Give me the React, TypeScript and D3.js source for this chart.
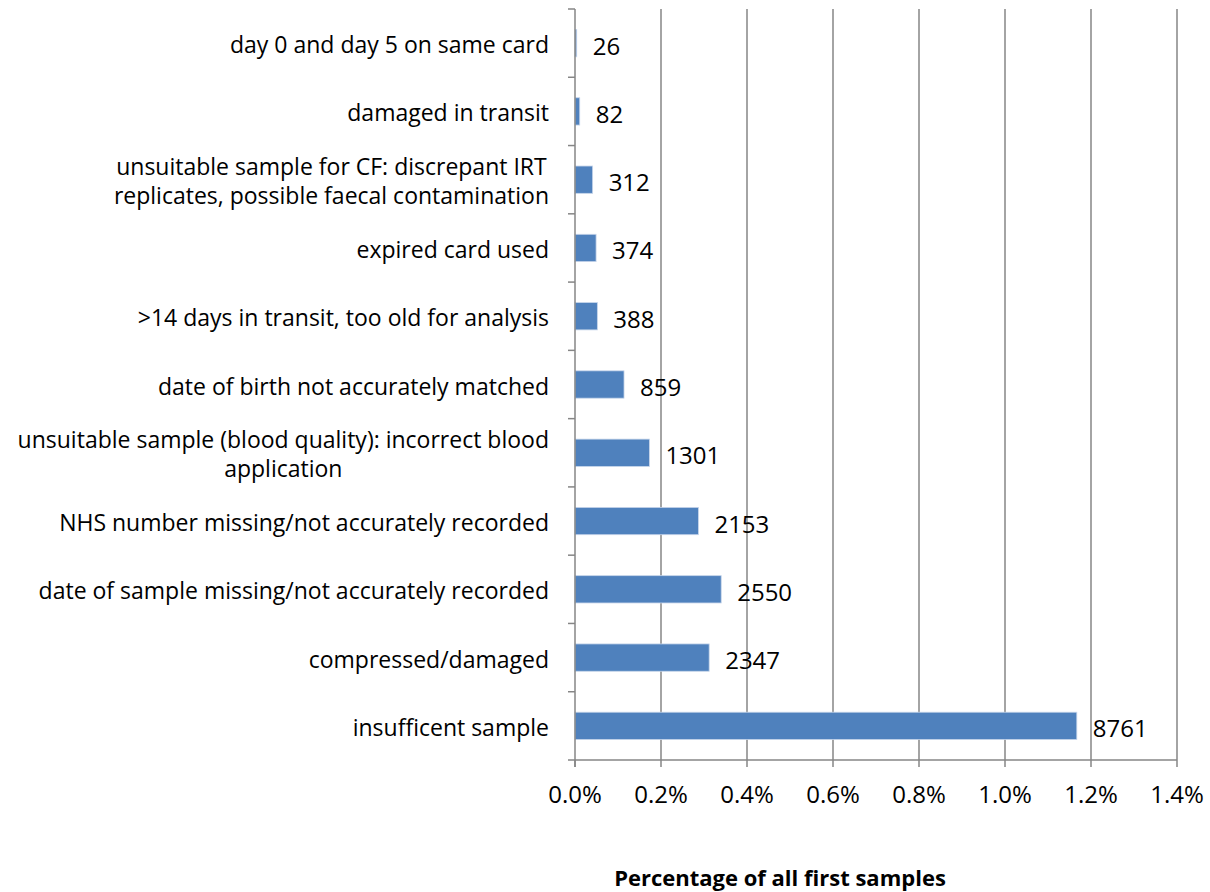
import React, { useEffect, useRef } from "react";
import * as d3 from "d3";

const categories: string[][] = [
  ["day 0 and day 5 on same card"],
  ["damaged in transit"],
  ["unsuitable sample for CF: discrepant IRT", "replicates, possible faecal contamination"],
  ["expired card used"],
  [">14 days in transit, too old for analysis"],
  ["date of birth not accurately matched"],
  ["unsuitable sample (blood quality): incorrect blood", "application"],
  ["NHS number missing/not accurately recorded"],
  ["date of sample missing/not accurately recorded"],
  ["compressed/damaged "],
  ["insufficent sample"],
];
const counts: number[] = [26, 82, 312, 374, 388, 859, 1301, 2153, 2550, 2347, 8761];
const percents: number[] = [0.004, 0.011, 0.041, 0.049, 0.052, 0.114, 0.173, 0.287, 0.34, 0.312, 1.167];
const xTicks: number[] = [0, 0.2, 0.4, 0.6, 0.8, 1.0, 1.2, 1.4];
const xTitle = "Percentage of all first samples";

const W = 1210;
const H = 892;
const FONT = "'Open Sans', Lato, sans-serif";
const FS = 23;
const FS_NUM = 24;

export default function App() {
  const ref = useRef<SVGSVGElement>(null);
  useEffect(() => {
    const svg = d3.select(ref.current);
    svg.selectAll("*").remove();
    const left = 575, right = 1177, top = 9, bottom = 760;
    const x = d3.scaleLinear().domain([0, 1.4]).range([left, right]);
    const idx = categories.map((_, i) => String(i));
    const y = d3.scaleBand().domain(idx).range([top, bottom]).paddingInner(0.6).paddingOuter(0.3);
    const yb = d3.scaleBand().domain(idx).range([top, bottom]);
    const grid = "#868686";

    // gridlines
    svg.append("g").selectAll("line").data(xTicks.slice(1)).join("line")
      .attr("x1", (d) => x(d)).attr("x2", (d) => x(d))
      .attr("y1", top).attr("y2", bottom)
      .attr("stroke", grid).attr("stroke-width", 1.5);

    // bars
    svg.append("g").selectAll("rect").data(percents).join("rect")
      .attr("x", x(0))
      .attr("y", (_, i) => y(String(i))!)
      .attr("width", (d) => x(d) - x(0))
      .attr("height", y.bandwidth())
      .attr("fill", "#4F81BD")
      .attr("stroke", "#C6D5EA").attr("stroke-width", 0.8);

    // y axis line and ticks
    svg.append("line").attr("x1", left).attr("x2", left).attr("y1", top).attr("y2", bottom + 7)
      .attr("stroke", grid).attr("stroke-width", 1.5);
    const yTickPos = idx.map((i) => yb(i)!).concat([bottom]);
    svg.append("g").selectAll("line").data(yTickPos).join("line")
      .attr("x1", left - 7).attr("x2", left).attr("y1", (d) => d).attr("y2", (d) => d)
      .attr("stroke", grid).attr("stroke-width", 1.5);

    // x axis line and ticks
    svg.append("line").attr("x1", left).attr("x2", right).attr("y1", bottom).attr("y2", bottom)
      .attr("stroke", grid).attr("stroke-width", 1.5);
    svg.append("g").selectAll("line").data(xTicks).join("line")
      .attr("x1", (d) => x(d)).attr("x2", (d) => x(d)).attr("y1", bottom).attr("y2", bottom + 7)
      .attr("stroke", grid).attr("stroke-width", 1.5);
    svg.append("g").selectAll("text").data(xTicks).join("text")
      .attr("x", (d) => x(d)).attr("y", 803)
      .attr("text-anchor", "middle")
      .attr("font-family", FONT).attr("font-size", FS_NUM).attr("fill", "#000")
      .text((d) => d.toFixed(1) + "%");

    // value labels
    svg.append("g").selectAll("text").data(percents).join("text")
      .attr("x", (d) => x(d) + 16)
      .attr("y", (_, i) => y(String(i))! + y.bandwidth() / 2 + 2)
      .attr("dominant-baseline", "central")
      .attr("font-family", FONT).attr("font-size", FS_NUM).attr("fill", "#000")
      .text((_, i) => String(counts[i]));

    // category labels
    const labelRight = 549;
    const lineGap = 29;
    categories.forEach((lines, i) => {
      const cy = yb(String(i))! + yb.bandwidth() / 2 + 1;
      const g = svg.append("g");
      const texts = lines.map((ln, j) =>
        g.append("text")
          .attr("y", cy + (j - (lines.length - 1) / 2) * lineGap)
          .attr("dominant-baseline", "central")
          .attr("font-family", FONT).attr("font-size", FS).attr("fill", "#000")
          .text(ln)
      );
      const widths = texts.map((t) => (t.node() as SVGTextElement).getComputedTextLength());
      const maxW = Math.max(...widths);
      const cx = labelRight - maxW / 2;
      texts.forEach((t) => t.attr("x", cx).attr("text-anchor", "middle"));
    });

    // x title
    svg.append("text").attr("x", 780).attr("y", 886)
      .attr("text-anchor", "middle")
      .attr("font-family", FONT).attr("font-size", 22).attr("font-weight", "bold").attr("fill", "#000")
      .text(xTitle);
  }, []);
  return (
    <svg ref={ref} width={W} height={H} style={{ position: "absolute", left: 0, top: 0, background: "#fff" }} />
  );
}
